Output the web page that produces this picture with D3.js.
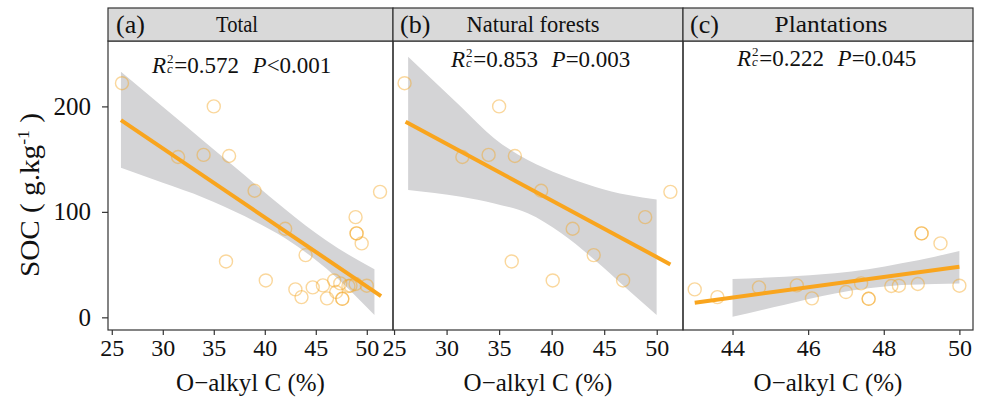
<!DOCTYPE html>
<html><head><meta charset="utf-8">
<script src="https://cdn.jsdelivr.net/npm/d3@7"></script>
<style>
body{margin:0;background:#fff;}
svg{display:block;}
text, tspan{font-family:"Liberation Serif","Times New Roman",serif !important;}
</style></head>
<body><svg id="c" width="984" height="398"></svg>
<script>
// ---- data ----
const panelTags = ["(a)", "(b)", "(c)"];
const panelTitles = ["Total", "Natural forests", "Plantations"];
const r2Values = ["0.572", "0.853", "0.222"];
const pValues = ["<0.001", "=0.003", "=0.045"];

const naturalX = [26.0, 35.0, 31.5, 34.0, 36.5, 39.0, 42.0, 36.2, 40.1, 44.0, 51.3, 48.9, 46.8];
const naturalY = [222, 200, 152, 154, 153, 120, 84, 53, 35, 59, 119, 95, 35];
const plantX = [43.0, 43.6, 44.7, 45.7, 46.1, 47.0, 47.4, 47.6, 47.6, 48.2, 48.4, 48.9, 49.0, 49.0, 49.5, 50.0];
const plantY = [26.5, 19.2, 28.4, 30.3, 18.0, 24.0, 32.2, 17.6, 17.6, 29.7, 30.0, 31.6, 79.6, 79.6, 70.1, 30.0];

// fitted lines (end points)
const fitTotalX = [25.9, 51.4], fitTotalY = [187, 20.2];
const fitNaturalX = [26.1, 51.3], fitNaturalY = [185.4, 50.2];
const fitPlantX = [43.0, 50.0], fitPlantY = [13.9, 48.0];

// confidence bands
const bandTotalX = [25.9, 30, 34, 38, 42, 46, 50.75];
const bandTotalHi = [232.8, 199.7, 167.3, 134.9, 102.5, 73, 45.5];
const bandTotalLo = [141.8, 127.5, 113.5, 96, 75, 46.6, 2.2];
const bandNaturalX = [26.34, 31.37, 34.55, 37.73, 40.92, 44.10, 47.29, 49.99];
const bandNaturalHi = [247, 199.6, 169.6, 149.1, 134.9, 123.9, 115.9, 111.8];
const bandNaturalLo = [120.7, 114.3, 108.0, 98.6, 79.7, 54.4, 25.9, 2.2];
const bandPlantX = [44.0, 45.38, 46.71, 47.59, 48.47, 49.35, 50.0];
const bandPlantHi = [36.3, 38.5, 41.7, 45.5, 51.2, 57.5, 62.8];
const bandPlantLo = [0.6, 12, 22.7, 27.5, 30.6, 31.6, 32.2];

const xTicksAB = [25, 30, 35, 40, 45, 50];
const xTicksC = [44, 46, 48, 50];
const yTicks = [0, 100, 200];
const xTitle = "O\u2212alkyl C (%)";

// ---- layout ----
const FONT = "Liberation Serif";
const svg = d3.select("#c").attr("font-family", FONT);
const stripTop = 8, panelTop = 41, panelBottom = 330;
const panelDefs = [
  {x0:108, x1:393, dom:[24.63, 52.57], ticks:xTicksAB,
   px:naturalX.concat(plantX), py:naturalY.concat(plantY),
   fx:fitTotalX, fy:fitTotalY, bx:bandTotalX, bh:bandTotalHi, bl:bandTotalLo,
   tagX:116, titleX:237, titleW:42, annX:152, annY:73},
  {x0:393, x1:683, dom:[24.9, 52.5], ticks:xTicksAB,
   px:naturalX, py:naturalY,
   fx:fitNaturalX, fy:fitNaturalY, bx:bandNaturalX, bh:bandNaturalHi, bl:bandNaturalLo,
   tagX:400, titleX:533, titleW:133, annX:451, annY:67},
  {x0:683, x1:973, dom:[42.69, 50.36], ticks:xTicksC,
   px:plantX, py:plantY,
   fx:fitPlantX, fy:fitPlantY, bx:bandPlantX, bh:bandPlantHi, bl:bandPlantLo,
   tagX:690, titleX:831, titleW:113, annX:737, annY:66}
];
const y = d3.scaleLinear().domain([-12, 262]).range([panelBottom, panelTop]);

const ptColor = "#F5A623", lineColor = "#F9A51E", bandColor = "#D4D4D6", frame = "#333";

panelDefs.forEach((p, i) => {
  const x = d3.scaleLinear().domain(p.dom).range([p.x0, p.x1]);
  const g = svg.append("g");
  const clipId = "clip" + i;
  svg.append("clipPath").attr("id", clipId).append("rect")
    .attr("x", p.x0).attr("y", panelTop).attr("width", p.x1 - p.x0).attr("height", panelBottom - panelTop);
  const inner = g.append("g").attr("clip-path", `url(#${clipId})`);

  // band
  const band = p.bx.map((d, k) => ({x: d, lo: p.bl[k], hi: p.bh[k]}));
  inner.append("path").datum(band)
    .attr("d", d3.area().x(d => x(d.x)).y0(d => y(d.lo)).y1(d => y(d.hi)).curve(d3.curveMonotoneX))
    .attr("fill", bandColor);

  // points
  inner.selectAll("circle").data(p.px.map((d, k) => [d, p.py[k]])).join("circle")
    .attr("cx", d => x(d[0])).attr("cy", d => y(d[1])).attr("r", 6.5)
    .attr("fill", "none").attr("stroke", ptColor).attr("stroke-opacity", 0.45).attr("stroke-width", 1.4);

  // fit line
  inner.append("path").datum(p.fx.map((d, k) => [d, p.fy[k]]))
    .attr("d", d3.line().x(d => x(d[0])).y(d => y(d[1])))
    .attr("stroke", lineColor).attr("stroke-width", 4).attr("fill", "none");

  // frame
  g.append("rect").attr("x", p.x0).attr("y", panelTop).attr("width", p.x1 - p.x0)
    .attr("height", panelBottom - panelTop).attr("fill", "none").attr("stroke", frame).attr("stroke-width", 1.2);
  // strip
  g.append("rect").attr("x", p.x0).attr("y", stripTop).attr("width", p.x1 - p.x0)
    .attr("height", panelTop - stripTop).attr("fill", "#D9D9D9").attr("stroke", frame).attr("stroke-width", 1.2);
  g.append("text").attr("x", p.tagX).attr("y", 33).attr("font-family", FONT).style("font-size", "26px").attr("fill", "#111").text(panelTags[i]);
  g.append("text").attr("x", p.titleX).attr("y", 32).attr("text-anchor", "middle").attr("font-family", FONT)
    .attr("textLength", p.titleW).attr("lengthAdjust", "spacingAndGlyphs")
    .style("font-size", "24px").attr("fill", "#111").text(panelTitles[i]);

  // x axis
  const xa = g.append("g").attr("transform", `translate(0,${panelBottom})`)
    .call(d3.axisBottom(x).tickValues(p.ticks).tickSize(5).tickPadding(4).tickFormat(d3.format("d")));
  xa.attr("font-family", FONT);
  xa.select(".domain").remove();
  xa.selectAll("line").attr("stroke", frame).attr("stroke-width", 1.2);
  xa.selectAll("text").style("font-size", "24px").attr("fill", "#111");

  g.append("text").attr("x", (p.x0 + p.x1) / 2).attr("y", 391).attr("text-anchor", "middle").attr("font-family", FONT)
    .style("font-size", "25px").attr("fill", "#111").text(xTitle);

  // annotation (one text element with stacked super/subscript)
  const t = g.append("text").attr("x", p.annX).attr("y", p.annY).attr("font-family", FONT)
    .style("font-size", "23px").attr("fill", "#111");
  t.append("tspan").style("font-style", "italic").text("R");
  t.append("tspan").attr("dx", 1).attr("dy", -10).style("font-size", "13px").text("2");
  t.append("tspan").attr("dx", -6.5).attr("dy", 10).style("font-size", "13px").style("font-style", "italic").text("c");
  t.append("tspan").attr("dx", 1.5).attr("dy", 0).text("=" + r2Values[i] + "\u00a0\u00a0");
  t.append("tspan").attr("dx", 2).style("font-style", "italic").text("P");
  t.append("tspan").text(pValues[i]);
});

// y axis (left panel)
const ya = svg.append("g").attr("transform", "translate(108,0)")
  .call(d3.axisLeft(y).tickValues(yTicks).tickSize(6).tickPadding(11));
ya.attr("font-family", FONT);
ya.select(".domain").remove();
ya.selectAll("line").attr("stroke", frame).attr("stroke-width", 1.2);
ya.selectAll("text").style("font-size", "25px").attr("fill", "#111");

const yt = svg.append("text").attr("transform", "translate(39,195) rotate(-90)").attr("font-family", FONT)
  .attr("text-anchor", "middle").style("font-size", "28px").attr("fill", "#111")
  .attr("textLength", 164).attr("lengthAdjust", "spacingAndGlyphs");
yt.append("tspan").text("SOC\u00a0(\u00a0g.kg");
yt.append("tspan").attr("dy", -10).style("font-size", "17px").text("-1");
yt.append("tspan").attr("dy", 10).text("\u00a0)");
</script></body></html>
